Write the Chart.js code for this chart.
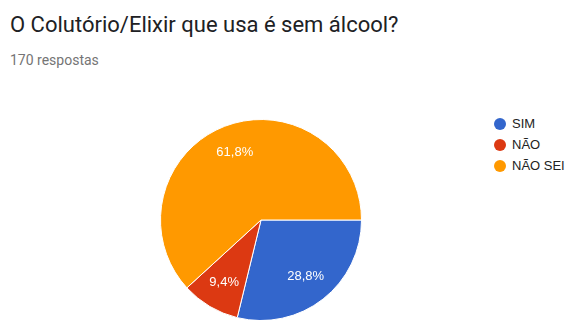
<!DOCTYPE html>
<html>
<head>
<meta charset="utf-8">
<script src="https://cdn.jsdelivr.net/npm/chart.js@4"></script>
<style>
  html, body { margin: 0; padding: 0; background: #fff; width: 567px; height: 320px; overflow: hidden; }
  #title { position: absolute; left: 10px; top: 12px; font: 22px Roboto, sans-serif; color: #202124; white-space: nowrap; }
  #subtitle { position: absolute; left: 10px; top: 52px; font: 14px Roboto, sans-serif; color: #757575; }
  #pieBox { position: absolute; left: 160px; top: 119px; width: 202px; height: 202px; }
  #legend { position: absolute; left: 494px; top: 113px; font: 13px "Liberation Sans", Arial, sans-serif; color: #222; }
  #legend div { height: 21px; display: flex; align-items: center; }
  #legend span.dot { width: 12px; height: 12px; border-radius: 50%; display: inline-block; margin-right: 6px; }
</style>
</head>
<body>
<div id="title">O Colutório/Elixir que usa é sem álcool?</div>
<div id="subtitle">170 respostas</div>
<div id="pieBox"><canvas id="answerChart"></canvas></div>
<div id="legend"></div>
<script>
// answer breakdown (percent of 170 responses)
const categories = ['SIM', 'NÃO', 'NÃO SEI'];
const percentages = [28.8, 9.4, 61.8];
const sliceColors = ['#3366cc', '#dc3912', '#ff9900'];

// percent labels inside each slice
const sliceLabels = {
    id: 'sliceLabels',
    afterDatasetsDraw(chart) {
        const ctx = chart.ctx;
        const meta = chart.getDatasetMeta(0);
        ctx.save();
        ctx.fillStyle = '#ffffff';
        ctx.font = '13px "Liberation Sans", Arial, sans-serif';
        ctx.textAlign = 'center';
        ctx.textBaseline = 'middle';
        meta.data.forEach((arc, i) => {
            const mid = (arc.startAngle + arc.endAngle) / 2;
            const r = arc.outerRadius * 0.72;
            const x = arc.x + Math.cos(mid) * r;
            const y = arc.y + Math.sin(mid) * r;
            ctx.fillText(percentages[i].toFixed(1).replace('.', ',') + '%', x, y);
        });
        ctx.restore();
    }
};

new Chart(document.getElementById('answerChart'), {
    type: 'pie',
    data: {
        labels: categories,
        datasets: [{
            data: percentages,
            backgroundColor: sliceColors,
            borderColor: '#ffffff',
            borderWidth: 1
        }]
    },
    options: {
        responsive: true,
        maintainAspectRatio: false,
        animation: false,
        rotation: 90,
        layout: { padding: 0 },
        plugins: {
            legend: { display: false },
            tooltip: { enabled: false }
        }
    },
    plugins: [sliceLabels]
});

// legend on the right
const legend = document.getElementById('legend');
categories.forEach((name, i) => {
    const row = document.createElement('div');
    row.innerHTML = '<span class="dot" style="background:' + sliceColors[i] + '"></span>' + name;
    legend.appendChild(row);
});
</script>
</body>
</html>
